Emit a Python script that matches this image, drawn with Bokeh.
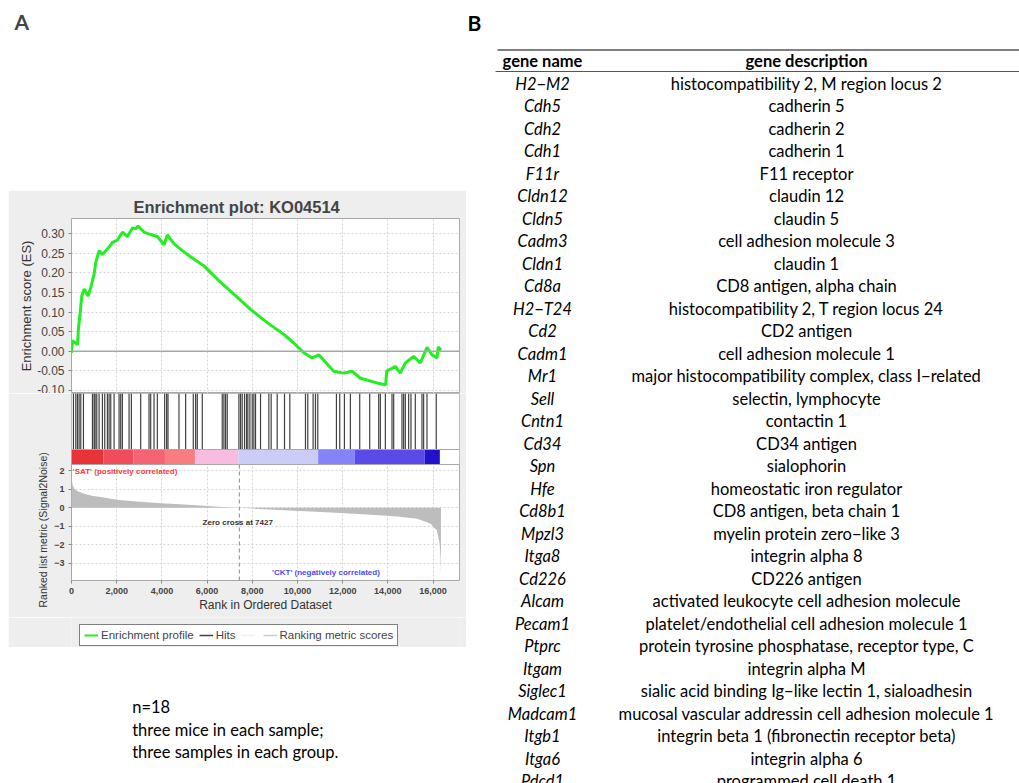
from bokeh.plotting import figure
from bokeh.layouts import column, row
from bokeh.models import (Range1d, FixedTicker, NumeralTickFormatter, Span, Legend,
                          LegendItem, Title, Spacer)
from bokeh.core.properties import value
from bokeh.embed import file_html
from bokeh.resources import INLINE

# ---------------- data ----------------
panel_a = "A"
panel_b = "B"
plot_title = "Enrichment plot: KO04514"
metric_label = "Ranked list metric (Signal2Noise)"

es_rank = [0, 44, 265, 310, 370, 455, 560, 736, 853, 1000, 1075, 1222, 1370, 1590, 1812,
           2033, 2254, 2475, 2696, 2843, 2946, 3211, 3505, 3800, 4094, 4242, 4536, 4905,
           5347, 5861, 6598, 7187, 7924, 8661, 9395, 9837, 10280, 10650, 10942, 11604,
           12046, 12414, 12784, 13520, 13900, 13950, 14330, 14551, 14772, 15140, 15436,
           15731, 15952, 16170, 16230, 16350]
es_score = [-0.004, 0.027, 0.017, 0.060, 0.090, 0.141, 0.159, 0.141, 0.163, 0.197, 0.227,
            0.257, 0.247, 0.261, 0.278, 0.284, 0.304, 0.293, 0.315, 0.313, 0.320, 0.304,
            0.298, 0.293, 0.272, 0.297, 0.274, 0.257, 0.238, 0.218, 0.176, 0.146, 0.107,
            0.073, 0.043, 0.021, -0.004, -0.017, -0.009, -0.051, -0.056, -0.051, -0.069,
            -0.081, -0.086, -0.051, -0.039, -0.056, -0.030, -0.013, -0.030, 0.010, -0.009,
            -0.017, 0.011, 0.002]

hit_ranks = [87, 190, 264, 337, 411, 529, 927, 1000, 1044, 1118, 1221, 1368, 1471, 1589,
             1663, 1737, 1884, 2105, 2178, 2252, 2547, 2650, 3062, 3430, 3504, 3652, 3799,
             4123, 4211, 4270, 4756, 5051, 5390, 5493, 5566, 5787, 6671, 6745, 6818, 6892,
             7408, 7481, 7555, 7658, 7746, 7805, 7894, 7997, 8070, 8144, 8365, 8733, 8836,
             9102, 9426, 9661, 10354, 10457, 10692, 10796, 10899, 11724, 11871, 12077,
             12342, 12755, 13197, 13594, 13668, 13889, 14183, 14257, 14625, 14699, 14772,
             14920, 15023, 15214, 15509, 15583, 15730, 16142]

metric_rank = [0, 20, 60, 150, 300, 560, 900, 1300, 2000, 3000, 3950, 5000, 5700, 6500,
               7427, 8500, 10100, 11500, 13100, 14300, 15300, 15900, 16170, 16290, 16330,
               16350]
metric_value = [1.75, 1.45, 1.20, 1.00, 0.88, 0.76, 0.66, 0.58, 0.44, 0.33, 0.25, 0.18,
                0.12, 0.06, 0.0, -0.08, -0.18, -0.26, -0.36, -0.46, -0.60, -0.87, -1.23,
                -1.95, -2.70, -3.68]
zero_cross = 7427

bar_start = [0, 1414, 2740, 4136, 5462, 7380, 10915, 12532, 15625]
bar_end = [1414, 2740, 4136, 5462, 7380, 10915, 12532, 15625, 16300]
bar_color = ["#e83438", "#f04c5c", "#f66474", "#f87c80", "#f8bce0", "#ccccf8",
             "#8484f8", "#5a4aea", "#2212cc"]

x_ticks = [0, 2000, 4000, 6000, 8000, 10000, 12000, 14000, 16000]
es_ticks = [-0.10, -0.05, 0.00, 0.05, 0.10, 0.15, 0.20, 0.25, 0.30]
metric_ticks = [-3, -2, -1, 0, 1, 2]

legend_labels = ["Enrichment profile", "Hits", " ", "Ranking metric scores"]

genes = ["H2\u2212M2", "Cdh5", "Cdh2", "Cdh1", "F11r", "Cldn12", "Cldn5", "Cadm3", "Cldn1",
         "Cd8a", "H2\u2212T24", "Cd2", "Cadm1", "Mr1", "Sell", "Cntn1", "Cd34", "Spn", "Hfe",
         "Cd8b1", "Mpzl3", "Itga8", "Cd226", "Alcam", "Pecam1", "Ptprc", "Itgam", "Siglec1",
         "Madcam1", "Itgb1", "Itga6", "Pdcd1"]
descriptions = [
    "histocompatibility 2, M region locus 2", "cadherin 5", "cadherin 2", "cadherin 1",
    "F11 receptor", "claudin 12", "claudin 5", "cell adhesion molecule 3", "claudin 1",
    "CD8 antigen, alpha chain", "histocompatibility 2, T region locus 24", "CD2 antigen",
    "cell adhesion molecule 1", "major histocompatibility complex, class I\u2212related",
    "selectin, lymphocyte", "contactin 1", "CD34 antigen", "sialophorin",
    "homeostatic iron regulator", "CD8 antigen, beta chain 1", "myelin protein zero\u2212like 3",
    "integrin alpha 8", "CD226 antigen", "activated leukocyte cell adhesion molecule",
    "platelet/endothelial cell adhesion molecule 1", "protein tyrosine phosphatase, receptor type, C",
    "integrin alpha M", "sialic acid binding Ig\u2212like lectin 1, sialoadhesin",
    "mucosal vascular addressin cell adhesion molecule 1",
    "integrin beta 1 (fibronectin receptor beta)", "integrin alpha 6", "programmed cell death 1"]
table_headers = ["gene name", "gene description"]
notes = ["n=18", "three mice in each sample;", "three samples in each group."]

# ---------------- style ----------------
PANEL = "#eeeeee"
SANS = "Liberation Sans"
BODY = "Lato"
GREEN = "#22ee22"
GRID = "#d4d4d4"
OUTLINE = "#a8a8a8"
BL, BR = 63, 7          # common left / right borders of the left column (frames aligned)
FX0, FX1 = 71, 459      # frame edges in page pixels
NAN = float("nan")


def canvas(w, h, xr, yr, bg="white", **kw):
    p = figure(width=w, height=h, x_range=Range1d(*xr), y_range=Range1d(*yr),
               output_backend="svg", toolbar_location=None, min_border=0,
               x_axis_location=None, y_axis_location=None, outline_line_color=None,
               background_fill_color=bg, border_fill_color=bg, **kw)
    p.grid.visible = False
    return p


# ---------------- left top (A) ----------------
p_top = canvas(458, 190, (FX0, FX1), (190, 0), min_border_left=BL, min_border_right=BR,
               min_border_top=40)
p_top.title.text = panel_a
p_top.title.align = "left"
p_top.title.offset = 14 - FX0
p_top.title.vertical_align = "top"
p_top.title.standoff = 9
p_top.title.text_font = BODY
p_top.title.text_font_size = "21px"
p_top.title.text_font_style = "bold"

x_rng = Range1d(0, 17170)

# ---------------- ES plot ----------------
p_es = figure(width=458, height=203, x_range=x_rng, y_range=Range1d(-0.108, 0.339),
              output_backend="svg", toolbar_location=None, x_axis_location=None,
              min_border_left=BL, min_border_right=BR, min_border_top=28, min_border_bottom=0,
              border_fill_color=PANEL, background_fill_color="white",
              outline_line_color=OUTLINE, title=plot_title)
p_es.title.align = "left"
p_es.title.offset = 62
p_es.title.text_font = SANS
p_es.title.text_font_size = "16.5px"
p_es.title.text_font_style = "bold"
p_es.title.standoff = 6
p_es.xgrid.ticker = FixedTicker(ticks=x_ticks)
p_es.ygrid.ticker = FixedTicker(ticks=es_ticks)
p_es.grid.grid_line_color = GRID
p_es.grid.grid_line_dash = "2 2"
ya = p_es.yaxis[0]
ya.ticker = FixedTicker(ticks=es_ticks)
ya.formatter = NumeralTickFormatter(format="0.00")
ya.axis_label = "Enrichment score (ES)"
ya.axis_label_text_font = SANS
ya.axis_label_text_font_size = "13px"
ya.axis_label_text_font_style = "normal"
ya.axis_label_text_color = "#333333"
ya.axis_label_standoff = 0
ya.major_label_text_font = SANS
ya.major_label_text_font_size = "12px"
ya.major_label_text_color = "#444444"
ya.axis_line_color = None
ya.major_tick_line_color = "#888888"
ya.major_tick_in = 0
ya.major_tick_out = 3
ya.minor_tick_line_color = None
ya.major_label_standoff = 4
p_es.add_layout(Span(location=0, dimension="width", line_color="#a8a8a8", line_width=1.5))
p_es.line(es_rank, es_score, line_color=GREEN, line_width=3)

# ---------------- hits + ranked metric ----------------
m_lo, m_hi = -3.95, 2.35
p_m = figure(width=458, height=224, x_range=x_rng, y_range=Range1d(m_lo, 6.21),
             output_backend="svg", toolbar_location=None,
             min_border_left=BL, min_border_right=BR, min_border_top=0, min_border_bottom=37,
             border_fill_color=PANEL, background_fill_color="white",
             outline_line_color=OUTLINE)
p_m.extra_y_ranges = {"hits": Range1d(-116, 71)}
p_m.xgrid.ticker = FixedTicker(ticks=x_ticks)
p_m.ygrid.ticker = FixedTicker(ticks=metric_ticks)
p_m.grid.grid_line_color = GRID
p_m.grid.grid_line_dash = "2 2"

xa = p_m.xaxis[0]
xa.ticker = FixedTicker(ticks=x_ticks)
xa.formatter = NumeralTickFormatter(format="0,0")
xa.axis_label = "Rank in Ordered Dataset"
xa.axis_label_text_font = SANS
xa.axis_label_text_font_size = "12px"
xa.axis_label_text_font_style = "normal"
xa.axis_label_text_color = "#333333"
xa.axis_label_standoff = 1
xa.major_label_text_font = SANS
xa.major_label_text_font_size = "9px"
xa.major_label_text_font_style = "bold"
xa.major_label_text_color = "#444444"
xa.axis_line_color = None
xa.major_tick_line_color = "#888888"
xa.major_tick_in = 0
xa.major_tick_out = 3
xa.minor_tick_line_color = None
xa.major_label_standoff = 4

ym = p_m.yaxis[0]
ym.ticker = FixedTicker(ticks=metric_ticks)
ym.major_label_text_font = SANS
ym.major_label_text_font_size = "9px"
ym.major_label_text_font_style = "bold"
ym.major_label_text_color = "#444444"
ym.axis_line_color = None
ym.major_tick_line_color = "#888888"
ym.major_tick_in = 0
ym.major_tick_out = 3
ym.minor_tick_line_color = None
ym.major_label_standoff = 4
p_m.add_layout(Title(text=metric_label, align="left", offset=-27, standoff=5,
                     text_font=SANS, text_font_size="10.5px", text_font_style="normal",
                     text_color="#333333"), "left")

# metric area
p_m.varea(x=metric_rank, y1=[0] * len(metric_rank), y2=metric_value, fill_color="#bdbdbd")
p_m.segment(x0=[zero_cross], x1=[zero_cross], y0=[m_lo], y1=[m_hi],
            line_color="#8a8a8a", line_dash="4 3", line_width=1)
# hits panel background (hides grid) and colour bar
p_m.quad(left=[x_rng.start], right=[x_rng.end], bottom=[0], top=[71], fill_color="white",
         line_color=None, y_range_name="hits")
p_m.quad(left=bar_start, right=bar_end, bottom=0, top=15, fill_color=bar_color,
         line_color=None, y_range_name="hits")
p_m.segment(x0=hit_ranks, x1=hit_ranks, y0=15, y1=71, line_color="black", line_alpha=0.75,
            line_width=1.2, y_range_name="hits")
p_m.segment(x0=[x_rng.start, x_rng.start], x1=[x_rng.end, x_rng.end], y0=[0, 15], y1=[0, 15],
            line_color=OUTLINE, line_width=1, y_range_name="hits")

p_m.text(x=[57], y=[1.99], text=["'SAT' (positively correlated)"], text_font=value(SANS),
         text_font_size="8px", text_font_style="bold", text_color="#ff3a3a",
         text_align="left", text_baseline="middle")
p_m.text(x=[7357], y=[-0.78], text=["Zero cross at %d" % zero_cross], text_font=value(SANS),
         text_font_size="8px", text_font_style="bold", text_color="#333333",
         text_align="center", text_baseline="middle")
p_m.text(x=[11260], y=[-3.5], text=["'CKT' (negatively correlated)"], text_font=value(SANS),
         text_font_size="8px", text_font_style="bold", text_color="#4a4aff",
         text_align="center", text_baseline="middle")

# ---------------- legend strip ----------------
p_leg = canvas(458, 30, (FX0, FX1), (647, 617), bg=PANEL, min_border_left=BL,
               min_border_right=BR)
proxy_x = [NAN, NAN]
proxy_y = [NAN, NAN]
r1 = p_leg.line(x=proxy_x, y=proxy_y, line_color=GREEN, line_width=2)
r2 = p_leg.line(x=proxy_x, y=proxy_y, line_color="#404040", line_width=1.5)
r3 = p_leg.line(x=proxy_x, y=proxy_y, line_color="#f0f0f0", line_width=1.5)
r4 = p_leg.line(x=proxy_x, y=proxy_y, line_color="#cccccc", line_width=1.5)
legend = Legend(items=[LegendItem(label=lab, renderers=[r]) for lab, r in
                       zip(legend_labels, [r1, r2, r3, r4])],
                location=(8, 1), orientation="horizontal",
                border_line_color="black", border_line_width=1,
                background_fill_color="white", background_fill_alpha=1,
                label_text_font=SANS, label_text_font_size="11.5px",
                glyph_width=14, glyph_height=12, label_standoff=3, spacing=5,
                padding=4, margin=0, label_height=12, label_width=0)
p_leg.add_layout(legend, "center")

# ---------------- notes ----------------
p_notes = canvas(458, 136, (FX0, FX1), (783, 647), min_border_left=BL, min_border_right=BR)
p_notes.text(x=[131.7] * len(notes), y=[706.7, 729, 751], text=notes, text_font=value(BODY),
             text_font_size="16.5px", text_align="left", text_baseline="middle")

# ---------------- table ----------------
p_r = canvas(553, 783, (466, 1019), (783, 0))
p_r.text(x=[467], y=[22], text=[panel_b], text_font=value(BODY), text_font_size="21px",
         text_font_style="bold", text_align="left", text_baseline="middle")
p_r.segment(x0=[497, 495], x1=[1019, 1019], y0=[49.5, 71], y1=[49.5, 71],
            line_color="#555555", line_width=[1.5, 1])
p_r.text(x=[542, 806], y=[60, 60], text=table_headers, text_font=value(BODY),
         text_font_size="16.5px", text_font_style="bold", text_align="center",
         text_baseline="middle")
row_y = [83.3 + 22.5 * i for i in range(len(genes))]
p_r.text(x=[542] * len(genes), y=row_y, text=genes, text_font=value(BODY),
         text_font_size="16.5px", text_font_style="italic", text_align="center",
         text_baseline="middle")
p_r.text(x=[806] * len(descriptions), y=row_y, text=descriptions, text_font=value(BODY),
         text_font_size="16.5px", text_align="center", text_baseline="middle")

layout = row(Spacer(width=8, height=783), column(p_top, p_es, p_m, p_leg, p_notes), p_r)
open("out.html", "w").write(file_html(layout, INLINE))
